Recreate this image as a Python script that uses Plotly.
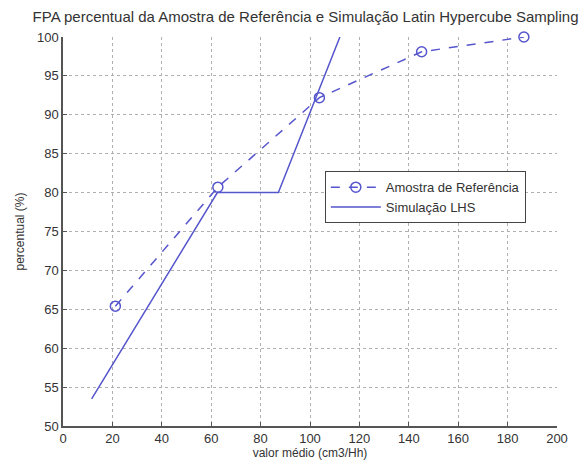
import plotly.graph_objects as go

# Data
ref_x = [21.2, 62.7, 103.8, 145.2, 186.6]
ref_y = [65.4, 80.7, 92.2, 98.1, 100.0]

lhs_x = [11.6, 62.5, 87.2, 112.1]
lhs_y = [53.5, 80.0, 80.0, 100.0]

x_ticks = [0, 20, 40, 60, 80, 100, 120, 140, 160, 180, 200]
y_ticks = [50, 55, 60, 65, 70, 75, 80, 85, 90, 95, 100]

blue = "rgb(85,85,205)"
txt = "#333333"
font = "Liberation Sans, Arial, sans-serif"

fig = go.Figure()
fig.add_trace(go.Scatter(
    x=ref_x, y=ref_y, mode="lines+markers", name="Amostra de Referência",
    line=dict(color=blue, width=1.5, dash="dash"),
    marker=dict(symbol="circle-open", size=10, color=blue, line=dict(width=1.5, color=blue)),
    cliponaxis=False,
))
fig.add_trace(go.Scatter(
    x=lhs_x, y=lhs_y, mode="lines", name="Simulação LHS",
    line=dict(color=blue, width=1.5),
))

axis_common = dict(
    showgrid=True, gridcolor="#b0b0b0", griddash="dot", gridwidth=1,
    showline=True, linecolor="#555555", linewidth=1.5,
    ticks="inside", ticklen=4, tickcolor="#555555",
    tickfont=dict(size=13, color=txt, family=font),
    zeroline=False, mirror=False,
)

fig.update_layout(
    width=582, height=470,
    margin=dict(l=63, r=25, t=37, b=40),
    paper_bgcolor="white", plot_bgcolor="white",
    font=dict(family=font, color=txt),
    title=dict(
        text="FPA percentual da Amostra de Referência e Simulação Latin Hypercube Sampling",
        x=0.525, xanchor="center", y=0.965, yanchor="middle",
        font=dict(size=15, color=txt, family=font),
    ),
    xaxis=dict(axis_common, range=[0, 200], tickvals=x_ticks,
               title=dict(text="valor médio (cm3/Hh)", font=dict(size=12, color=txt), standoff=3)),
    yaxis=dict(axis_common, range=[50, 100], tickvals=y_ticks,
               title=dict(text="percentual (%)", font=dict(size=12, color=txt), standoff=10)),
    legend=dict(
        x=0.53, y=0.655, xanchor="left", yanchor="top",
        bgcolor="white", bordercolor="#444444", borderwidth=1,
        font=dict(size=13, color=txt, family=font),
        tracegroupgap=0, itemwidth=50,
    ),
    showlegend=True,
)

fig.write_html("out.html")
